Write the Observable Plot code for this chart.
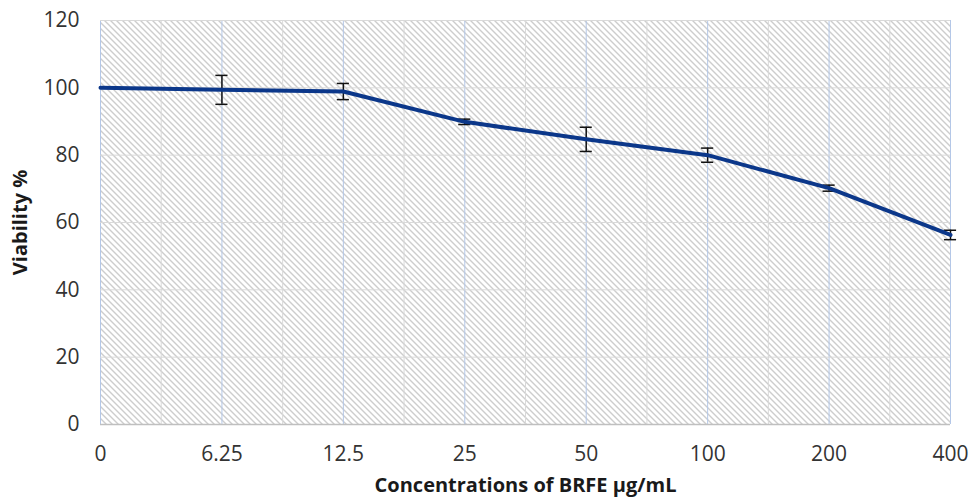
<!DOCTYPE html>
<html><head><meta charset="utf-8">
<script src="https://cdn.jsdelivr.net/npm/d3@7"></script>
<script src="https://cdn.jsdelivr.net/npm/@observablehq/plot@0.6"></script>
<style>body{margin:0;background:#fff;} svg{display:block;}</style>
</head><body><div id="chart"></div>
<script>
const concentrations = ["0", "6.25", "12.5", "25", "50", "100", "200", "400"];
const viability = [100, 99.4, 98.9, 89.9, 84.7, 80.0, 70.2, 56.3];
const errors = [0, 4.3, 2.4, 0.8, 3.6, 2.1, 0.9, 1.4];
const yTicks = [0, 20, 40, 60, 80, 100, 120];

const data = concentrations.map((c, i) => ({i, c, v: viability[i], e: errors[i]}));
const mids = concentrations.slice(1).map((c, i) => i + 0.5);
const idx = concentrations.map((c, i) => i);
const font = "'Open Sans', 'Liberation Sans', sans-serif";

const chart = Plot.plot({
  width: 972, height: 504,
  marginLeft: 100, marginRight: 22, marginTop: 20, marginBottom: 80,
  style: {fontFamily: font, fontSize: "21px", color: "#333", background: "#fff"},
  x: {domain: [0, concentrations.length - 1]},
  y: {domain: [0, 120]},
  marks: [
    Plot.frame({fill: "url(#hatch)", stroke: "none"}),
    Plot.ruleX(mids, {stroke: "#d9d9d9", strokeWidth: 1}),
    Plot.ruleX(idx, {stroke: "#b4c7e7", strokeWidth: 1}),
    Plot.ruleY(yTicks.filter(t => t > 0), {stroke: "#d9d9d9", strokeWidth: 1}),
    Plot.ruleY([0], {stroke: "#bfbfbf", strokeWidth: 1.5}),
    Plot.ruleX(data.filter(d => d.e > 0), {x: "i", y1: d => d.v - d.e, y2: d => d.v + d.e, stroke: "#111", strokeWidth: 1.5}),
    Plot.ruleY(data.filter(d => d.e > 0), {y: d => d.v + d.e, x1: d => d.i - 0.05, x2: d => d.i + 0.05, stroke: "#111", strokeWidth: 1.5}),
    Plot.ruleY(data.filter(d => d.e > 0), {y: d => d.v - d.e, x1: d => d.i - 0.05, x2: d => d.i + 0.05, stroke: "#111", strokeWidth: 1.5}),
    Plot.line(data, {x: "i", y: "v", stroke: "#0b378a", strokeWidth: 4, strokeLinejoin: "round"}),
    Plot.axisX({ticks: idx, tickFormat: i => concentrations[i], tickSize: 0, tickPadding: 22, label: null, fontSize: 21}),
    Plot.axisY({ticks: yTicks, tickSize: 0, tickPadding: 21, label: null, fontSize: 21}),
    Plot.text(["Concentrations of BRFE µg/mL"], {frameAnchor: "bottom", dy: 67, fontWeight: "bold", fontSize: 20, fill: "#1a1a1a"}),
    Plot.text(["Viability %"], {frameAnchor: "left", textAnchor: "middle", dx: -80, rotate: -90, fontWeight: "bold", fontSize: 20, fill: "#1a1a1a"})
  ]
});

const svg = d3.select(chart);
const defs = svg.insert("defs", ":first-child");
const pat = defs.append("pattern").attr("id", "hatch").attr("patternUnits", "userSpaceOnUse")
  .attr("width", 6).attr("height", 6);
pat.append("rect").attr("width", 6).attr("height", 6).attr("fill", "#fff");
pat.append("path").attr("d", "M0,0L6,6M-1,5L1,7M5,-1L7,1")
  .attr("stroke", "#9a9a9a").attr("stroke-width", 1);
document.getElementById("chart").appendChild(chart);
</script>
</body></html>
